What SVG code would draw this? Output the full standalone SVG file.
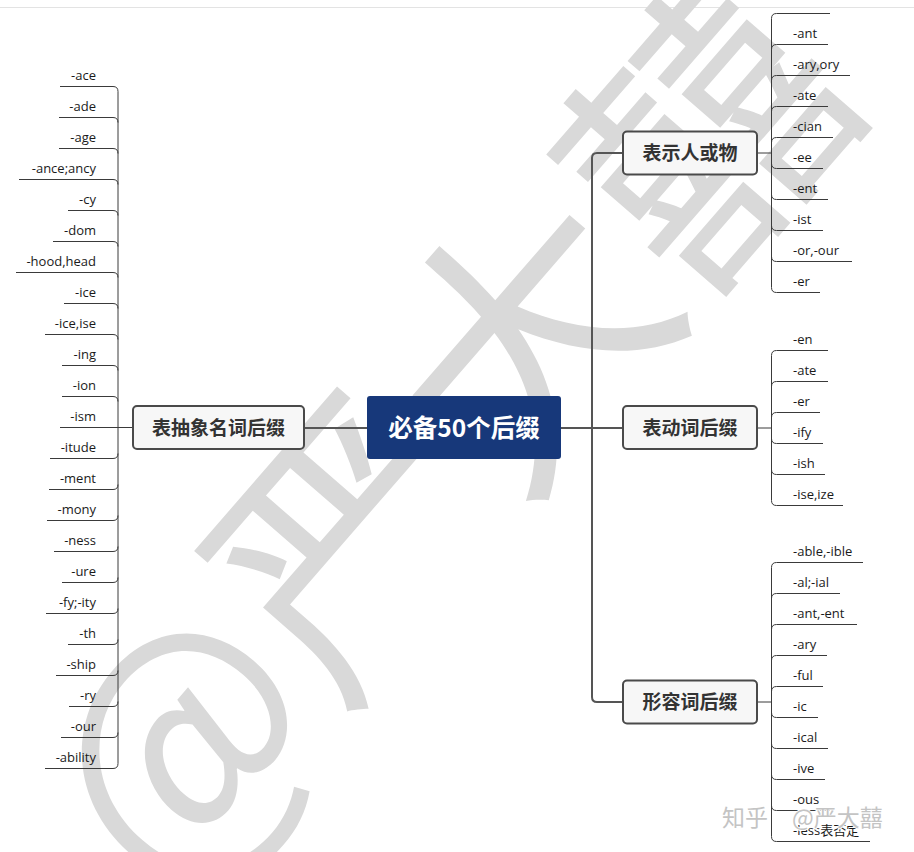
<svg xmlns="http://www.w3.org/2000/svg" width="914" height="852" viewBox="0 0 914 852">
<style>
.wm{font-family:"Noto Sans CJK SC",sans-serif;fill:#d9d9d9}
.leaf{font-family:"Open Sans","Noto Sans CJK SC",sans-serif;font-size:13px;fill:#1a1a1a}
.l{text-anchor:end}
.node rect{fill:#f7f7f7;stroke:#4a4a4a;stroke-width:2}
.nt{font-family:"Noto Sans CJK SC",sans-serif;font-size:19px;font-weight:bold;fill:#333;text-anchor:middle}
.main{fill:#17387a}
.mt{font-family:"Noto Sans CJK SC",sans-serif;font-size:24.5px;font-weight:bold;fill:#fff;text-anchor:middle}
.c{fill:none;stroke:#555;stroke-width:2}
.lk{fill:none;stroke:#3a3a3a;stroke-width:1}
.zh{font-family:"Noto Sans CJK SC",sans-serif;font-size:23px;fill:#c4c4c4;stroke:#fff;stroke-width:2;paint-order:stroke}
</style>
<rect width="914" height="852" fill="#fff"/>
<line x1="0" y1="7.5" x2="914" y2="7.5" stroke="#e3e3e3" stroke-width="1"/>
<text class="wm" font-size="272" transform="translate(176,752) rotate(-49)" x="-122" y="95">@严大囍</text>

<g id="connectors">
<path class="c" d="M367,428 H304"/>
<path class="c" d="M561,428 H623"/>
<path class="c" d="M623,153 H597 Q592,153 592,158 V697 Q592,702 597,702 H623"/>
<path class="lk" d="M757,153 H771.5"/>
<path class="lk" d="M757,428 H771.5"/>
<path class="lk" d="M757,702 H771.5"/>
<path class="lk" d="M118,91.5 V763.5"/>
<path class="lk" d="M60,86.5 H113 Q118,86.5 118,91.5"/>
<path class="lk" d="M59,117.5 H113 Q118,117.5 118,122.5"/>
<path class="lk" d="M59,148.5 H113 Q118,148.5 118,153.5"/>
<path class="lk" d="M19,179.5 H113 Q118,179.5 118,184.5"/>
<path class="lk" d="M68,210.5 H113 Q118,210.5 118,215.5"/>
<path class="lk" d="M53,241.5 H113 Q118,241.5 118,246.5"/>
<path class="lk" d="M16,272.5 H113 Q118,272.5 118,277.5"/>
<path class="lk" d="M64,303.5 H113 Q118,303.5 118,308.5"/>
<path class="lk" d="M45,334.5 H113 Q118,334.5 118,339.5"/>
<path class="lk" d="M62,365.5 H113 Q118,365.5 118,370.5"/>
<path class="lk" d="M62,396.5 H113 Q118,396.5 118,401.5"/>
<path class="lk" d="M60,427.5 H133"/>
<path class="lk" d="M50,458.5 H113 Q118,458.5 118,453.5"/>
<path class="lk" d="M49,489.5 H113 Q118,489.5 118,484.5"/>
<path class="lk" d="M47,520.5 H113 Q118,520.5 118,515.5"/>
<path class="lk" d="M54,551.5 H113 Q118,551.5 118,546.5"/>
<path class="lk" d="M62,582.5 H113 Q118,582.5 118,577.5"/>
<path class="lk" d="M46,613.5 H113 Q118,613.5 118,608.5"/>
<path class="lk" d="M68,644.5 H113 Q118,644.5 118,639.5"/>
<path class="lk" d="M56,675.5 H113 Q118,675.5 118,670.5"/>
<path class="lk" d="M69,706.5 H113 Q118,706.5 118,701.5"/>
<path class="lk" d="M61,737.5 H113 Q118,737.5 118,732.5"/>
<path class="lk" d="M45,768.5 H113 Q118,768.5 118,763.5"/>
<path class="lk" d="M771.5,18.5 V287.5"/>
<path class="lk" d="M830,13.5 H776.5 Q771.5,13.5 771.5,18.5"/>
<path class="lk" d="M828,44.5 H776.5 Q771.5,44.5 771.5,49.5"/>
<path class="lk" d="M850,75.5 H776.5 Q771.5,75.5 771.5,80.5"/>
<path class="lk" d="M828,106.5 H776.5 Q771.5,106.5 771.5,111.5"/>
<path class="lk" d="M833,137.5 H776.5 Q771.5,137.5 771.5,142.5"/>
<path class="lk" d="M823,168.5 H776.5 Q771.5,168.5 771.5,163.5"/>
<path class="lk" d="M828,199.5 H776.5 Q771.5,199.5 771.5,194.5"/>
<path class="lk" d="M823,230.5 H776.5 Q771.5,230.5 771.5,225.5"/>
<path class="lk" d="M852,261.5 H776.5 Q771.5,261.5 771.5,256.5"/>
<path class="lk" d="M820,292.5 H776.5 Q771.5,292.5 771.5,287.5"/>
<path class="lk" d="M771.5,355.5 V500.5"/>
<path class="lk" d="M828,350.5 H776.5 Q771.5,350.5 771.5,355.5"/>
<path class="lk" d="M828,381.5 H776.5 Q771.5,381.5 771.5,386.5"/>
<path class="lk" d="M820,412.5 H776.5 Q771.5,412.5 771.5,417.5"/>
<path class="lk" d="M823,443.5 H776.5 Q771.5,443.5 771.5,438.5"/>
<path class="lk" d="M825,474.5 H776.5 Q771.5,474.5 771.5,469.5"/>
<path class="lk" d="M843,505.5 H776.5 Q771.5,505.5 771.5,500.5"/>
<path class="lk" d="M771.5,567.5 V836.5"/>
<path class="lk" d="M863,562.5 H776.5 Q771.5,562.5 771.5,567.5"/>
<path class="lk" d="M840,593.5 H776.5 Q771.5,593.5 771.5,598.5"/>
<path class="lk" d="M857,624.5 H776.5 Q771.5,624.5 771.5,629.5"/>
<path class="lk" d="M827,655.5 H776.5 Q771.5,655.5 771.5,660.5"/>
<path class="lk" d="M823,686.5 H776.5 Q771.5,686.5 771.5,691.5"/>
<path class="lk" d="M818,717.5 H776.5 Q771.5,717.5 771.5,712.5"/>
<path class="lk" d="M828,748.5 H776.5 Q771.5,748.5 771.5,743.5"/>
<path class="lk" d="M825,779.5 H776.5 Q771.5,779.5 771.5,774.5"/>
<path class="lk" d="M830,810.5 H776.5 Q771.5,810.5 771.5,805.5"/>
<path class="lk" d="M870,841.5 H776.5 Q771.5,841.5 771.5,836.5"/>
</g>

<g id="center"><rect class="main" x="367" y="396" width="194" height="63" rx="3"/><text class="mt" x="464" y="437">必备50个后缀</text></g>
<g id="n-abstract" class="node"><rect x="133" y="406" width="171" height="43" rx="4"/><text class="nt" x="218.5" y="434.5">表抽象名词后缀</text></g>
<g id="n-person" class="node"><rect x="623" y="131.5" width="134" height="43" rx="4"/><text class="nt" x="690" y="160">表示人或物</text></g>
<g id="n-verb" class="node"><rect x="623" y="406" width="134" height="43" rx="4"/><text class="nt" x="690" y="434.5">表动词后缀</text></g>
<g id="n-adj" class="node"><rect x="623" y="680.5" width="134" height="43" rx="4"/><text class="nt" x="690" y="709">形容词后缀</text></g>

<g id="leaves-left" class="leaf l">
<text x="96" y="79.5">-ace</text>
<text x="96" y="110.5">-ade</text>
<text x="96" y="141.5">-age</text>
<text x="96" y="172.5">-ance;ancy</text>
<text x="96" y="203.5">-cy</text>
<text x="96" y="234.5">-dom</text>
<text x="96" y="265.5">-hood,head</text>
<text x="96" y="296.5">-ice</text>
<text x="96" y="327.5">-ice,ise</text>
<text x="96" y="358.5">-ing</text>
<text x="96" y="389.5">-ion</text>
<text x="96" y="420.5">-ism</text>
<text x="96" y="451.5">-itude</text>
<text x="96" y="482.5">-ment</text>
<text x="96" y="513.5">-mony</text>
<text x="96" y="544.5">-ness</text>
<text x="96" y="575.5">-ure</text>
<text x="96" y="606.5">-fy;-ity</text>
<text x="96" y="637.5">-th</text>
<text x="96" y="668.5">-ship</text>
<text x="96" y="699.5">-ry</text>
<text x="96" y="730.5">-our</text>
<text x="96" y="761.5">-ability</text>
</g>
<g id="leaves-person" class="leaf">
<text x="793" y="37.5">-ant</text>
<text x="793" y="68.5">-ary,ory</text>
<text x="793" y="99.5">-ate</text>
<text x="793" y="130.5">-cian</text>
<text x="793" y="161.5">-ee</text>
<text x="793" y="192.5">-ent</text>
<text x="793" y="223.5">-ist</text>
<text x="793" y="254.5">-or,-our</text>
<text x="793" y="285.5">-er</text>
</g>
<g id="leaves-verb" class="leaf">
<text x="793" y="343.5">-en</text>
<text x="793" y="374.5">-ate</text>
<text x="793" y="405.5">-er</text>
<text x="793" y="436.5">-ify</text>
<text x="793" y="467.5">-ish</text>
<text x="793" y="498.5">-ise,ize</text>
</g>
<g id="leaves-adj" class="leaf">
<text x="793" y="555.5">-able,-ible</text>
<text x="793" y="586.5">-al;-ial</text>
<text x="793" y="617.5">-ant,-ent</text>
<text x="793" y="648.5">-ary</text>
<text x="793" y="679.5">-ful</text>
<text x="793" y="710.5">-ic</text>
<text x="793" y="741.5">-ical</text>
<text x="793" y="772.5">-ive</text>
<text x="793" y="803.5">-ous</text>
<text x="793" y="834.5">-less表否定</text>
</g>
<text class="zh" x="722" y="826">知乎 <tspan x="792">@严大囍</tspan></text>
</svg>
